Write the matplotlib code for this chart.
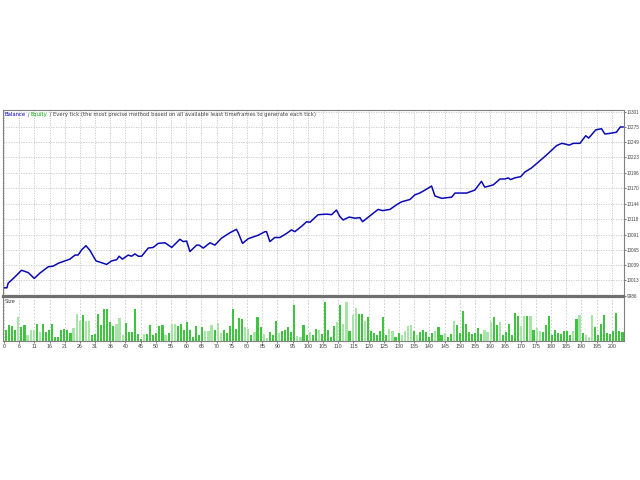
import matplotlib
matplotlib.use("Agg")
import matplotlib.pyplot as plt
import numpy as np

# ---------------- data ----------------
trade_idx = [0, 1, 1.4, 3.1, 5.8, 8.0, 10.0, 11.8, 14.6, 16.2, 17.9, 19.5, 21.7, 23.4, 24.4,
             25.6, 27.0, 28.3, 30.3, 32.1, 33.8, 35.4, 37.1, 37.9, 39.0, 40.9, 42.0, 43.1,
             44.2, 45.3, 47.5, 49.1, 50.8, 53.0, 55.2, 57.9, 59.0, 60.1, 61.2, 63.4, 64.2,
             65.6, 67.8, 69.4, 71.6, 74.3, 76.5, 77.1, 78.5, 80.4, 83.7, 85.9, 86.4, 87.5,
             89.1, 90.8, 93.0, 94.6, 95.7, 97.9, 99.6, 100.7, 102.3, 103.4, 106.2, 107.8,
             109.4, 110.5, 111.6, 113.6, 115.5, 117.1, 118.0, 120.4, 123.1, 124.6, 127.0,
             129.2, 130.8, 133.6, 135.2, 136.8, 138.5, 140.7, 141.8, 144.0, 147.3, 148.4,
             152.2, 154.9, 157.1, 158.2, 161.0, 163.2, 164.8, 165.9, 166.7, 168.1, 170.0,
             171.4, 173.6, 178.5, 181.8, 183.5, 184.5, 186.0, 187.3, 189.5, 191.4, 192.4,
             194.7, 196.6, 197.7, 199.3, 201.5, 202.8, 203.7]
balance = [10000, 10000, 10008, 10016, 10030, 10026, 10016, 10025, 10036, 10037, 10042, 10045,
           10049, 10056, 10056, 10065, 10072, 10064, 10046, 10043, 10040, 10046, 10048, 10054,
           10049, 10056, 10054, 10058, 10054, 10054, 10068, 10069, 10076, 10077, 10069, 10083,
           10079, 10080, 10062, 10073, 10073, 10068, 10077, 10073, 10085, 10094, 10100, 10094,
           10076, 10084, 10090, 10096, 10096, 10079, 10086, 10086, 10093, 10099, 10096, 10105,
           10113, 10112, 10120, 10125, 10126, 10125, 10133, 10122, 10116, 10121, 10119, 10120,
           10113, 10123, 10134, 10132, 10134, 10142, 10147, 10151, 10159, 10162, 10167, 10174,
           10157, 10153, 10155, 10162, 10162, 10167, 10182, 10172, 10176, 10186, 10186, 10188,
           10185, 10188, 10190, 10198, 10205, 10227, 10243, 10247, 10246, 10244, 10247, 10247,
           10260, 10256, 10270, 10272, 10263, 10264, 10266, 10275, 10275]

sizes = [0.37, 0.53, 0.50, 0.37, 0.80, 0.47, 0.53, 0.20, 0.36, 0.37, 0.57, 0.29, 0.55, 0.29,
         0.37, 0.57, 0.14, 0.14, 0.37, 0.40, 0.36, 0.26, 0.44, 0.89, 0.65, 0.87, 0.67, 0.67,
         0.20, 0.23, 0.89, 0.53, 1.04, 1.04, 0.64, 0.50, 0.57, 0.76, 0.20, 0.60, 0.29, 0.29,
         1.07, 0.22, 0.07, 0.22, 0.22, 0.53, 0.20, 0.27, 0.50, 0.53, 0.20, 0.26, 0.57, 0.57,
         0.50, 0.57, 0.36, 0.61, 0.36, 0.12, 0.50, 0.20, 0.47, 0.34, 0.34, 0.53, 0.37, 0.60,
         0.27, 0.36, 0.27, 0.50, 1.05, 0.39, 0.75, 0.71, 0.46, 0.39, 0.20, 0.29, 0.79, 0.46,
         0.22, 0.11, 0.29, 0.20, 0.67, 0.25, 0.34, 0.36, 0.46, 0.29, 1.19, 0.16, 0.14, 0.53,
         0.20, 0.29, 0.20, 0.40, 0.37, 0.22, 1.27, 0.37, 0.14, 0.50, 0.62, 1.17, 0.57, 1.27,
         0.34, 0.85, 1.10, 0.88, 0.88, 0.67, 0.79, 0.34, 0.26, 0.20, 0.34, 0.79, 0.20, 0.40,
         0.34, 0.14, 0.26, 0.20, 0.34, 0.50, 0.53, 0.34, 0.20, 0.29, 0.37, 0.30, 0.14, 0.26,
         0.34, 0.46, 0.20, 0.26, 0.14, 0.22, 0.67, 0.53, 0.26, 0.99, 0.57, 0.29, 0.22, 0.26,
         0.43, 0.22, 0.36, 0.29, 0.64, 0.79, 0.53, 0.64, 0.20, 0.29, 0.57, 0.20, 0.91, 0.82,
         0.50, 0.82, 0.82, 0.82, 0.36, 0.43, 0.34, 0.29, 0.53, 0.82, 0.20, 0.37, 0.26, 0.22,
         0.34, 0.34, 0.20, 0.34, 0.71, 0.85, 0.26, 0.20, 0.14, 0.85, 0.47, 0.20, 0.57, 0.85,
         0.26, 0.22, 0.34, 0.91, 0.34, 0.29]
# trade numbers (1-based) drawn in the light green shade
light_bars = [5, 8, 9, 10, 12, 23, 24, 25, 27, 28, 37, 38, 39, 46, 53, 55, 56, 66, 67, 68, 70,
              71, 79, 80, 82, 85, 86, 90, 96, 97, 100, 103, 109, 111, 112, 114, 115, 118, 126,
              127, 130, 131, 132, 133, 135, 141, 144, 147, 157, 158, 159, 162, 169, 170, 172,
              174, 175, 186, 188, 190, 191, 192]

x_labels = ['0', '6', '11', '16', '21', '26', '31', '36', '40', '45', '50', '55', '60', '65', '70',
            '75', '80', '85', '90', '95', '100', '105', '110', '115', '120', '125', '130', '135',
            '140', '145', '150', '155', '160', '165', '170', '175', '180', '185', '190', '195', '200']
y_ticks = [10301, 10275, 10249, 10223, 10196, 10170, 10144, 10118, 10091, 10065, 10039, 10013, 9986]

title_parts = [("Balance", "#0000C8"), (" / ", "#404040"), ("Equity", "#00B000"),
               (" / Every tick (the most precise method based on all available least timeframes to generate each tick)", "#404040")]

# ---------------- figure ----------------
W, H = 640, 480
fig = plt.figure(figsize=(6.4, 4.8), dpi=100)
fig.patch.set_facecolor("white")

def fx(px):
    return px / W

def fy(py):
    return 1 - py / H

ax = fig.add_axes([fx(3), fy(296), fx(624) - fx(3), fy(110) - fy(296)])
axb = fig.add_axes([fx(3), fy(341), fx(624) - fx(3), fy(297) - fy(341)])

grid_color = "#C8C8C8"
edge = "#808080"
tick_font = "Liberation Sans"
tick_pos = [5 * k for k in range(len(x_labels))]

# main panel
ax.plot(trade_idx, balance, color="#0A0AB4", lw=1.1, solid_joinstyle="round")
ax.set_xlim(-0.3, 204)
ax.set_ylim(9986, 10304)
ax.set_yticks(y_ticks)
ax.set_yticklabels([str(v) for v in y_ticks], fontfamily=tick_font)
ax.yaxis.tick_right()
ax.set_xticks(tick_pos)
ax.tick_params(axis="x", labelbottom=False, length=0)
ax.tick_params(axis="y", labelsize=3.3, length=1.2, width=0.5, colors="#404040", pad=0.8)
ax.grid(True, color=grid_color, linestyle=(0, (1.5, 1.5)), lw=0.6)
ax.set_axisbelow(True)
for s in ax.spines.values():
    s.set_color(edge)
    s.set_linewidth(0.8)
ax.spines["bottom"].set_linewidth(1.6)
ax.spines["bottom"].set_color("#707070")

# title pieces
t = ax.text(0.003, 0.987, title_parts[0][0], transform=ax.transAxes, fontsize=3.8,
            color=title_parts[0][1], va="top", ha="left")
for txt, col in title_parts[1:]:
    t = ax.annotate(txt, xy=(1, 0), xycoords=t, xytext=(0, 0), textcoords="offset points",
                    fontsize=3.8, color=col, va="bottom", ha="left")

# size panel
n = len(sizes)
pos = np.linspace(0.7, 203.5, n)
light_set = set(light_bars)
cols = ["#A8E4A8" if (i + 1) in light_set else "#3EC43E" for i in range(n)]
axb.bar(pos, sizes, width=0.7, color=cols, linewidth=0, antialiased=False)
axb.set_xlim(-0.3, 204)
axb.set_ylim(0, 1.45)
axb.set_yticks([])
axb.set_xticks(tick_pos)
axb.set_xticklabels(x_labels, fontfamily=tick_font)
axb.tick_params(axis="x", labelsize=3.8, length=1.5, width=0.5, colors="#404040", pad=0.8)
axb.grid(True, axis="x", color=grid_color, linestyle=(0, (2, 2)), lw=0.6)
axb.set_axisbelow(True)
for s in axb.spines.values():
    s.set_color(edge)
    s.set_linewidth(0.8)
axb.spines["top"].set_linewidth(1.6)
axb.spines["top"].set_color("#707070")
axb.text(0.003, 0.95, "Size", transform=axb.transAxes, fontsize=3.8, color="#404040",
         va="top", ha="left")

fig.savefig("out.png", dpi=100, facecolor="white")
